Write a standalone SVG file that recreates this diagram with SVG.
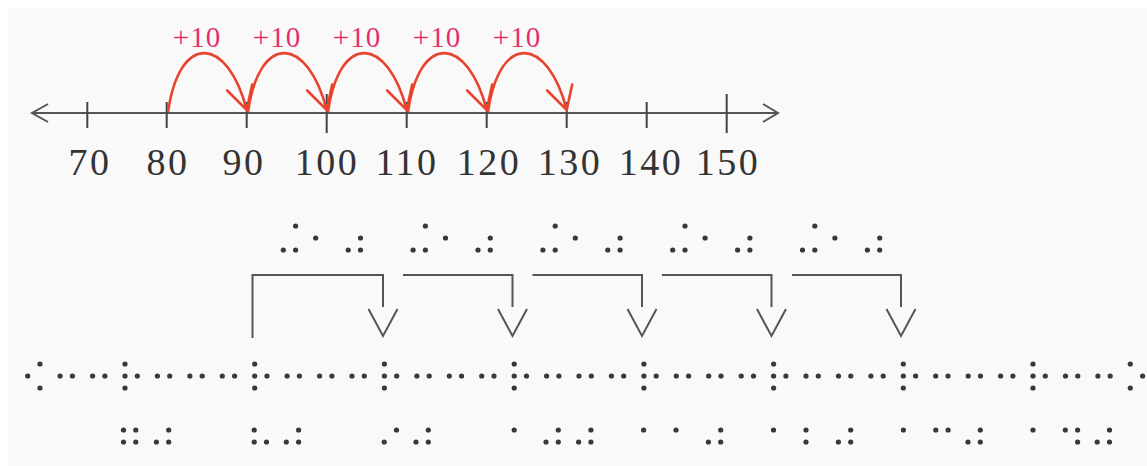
<svg xmlns="http://www.w3.org/2000/svg" xmlns:xlink="http://www.w3.org/1999/xlink" width="1147" height="466" viewBox="0 0 1147 466">
<style>
.axis{stroke:#555;stroke-width:2;fill:none}
.tick{stroke:#444;stroke-width:2}
.num{font-family:"Liberation Serif",serif;font-size:38px;fill:#333;text-anchor:middle;letter-spacing:2.5px}
.plus{font-family:"Liberation Serif",serif;font-size:29px;fill:#e0336e;text-anchor:middle;letter-spacing:1px}
.arc{stroke:#e8432d;stroke-width:2.6;fill:none;stroke-linecap:round}
.br{stroke:#555;stroke-width:2;fill:none}
</style>
<defs>
<circle id="d" r="2.6" fill="#383838"/>
<g id="b2"><use href="#d" x="0" y="12"/></g>
<g id="b25"><use href="#d" x="0" y="12"/><use href="#d" x="12.3" y="12"/></g>
<g id="b246"><use href="#d" x="0" y="12"/><use href="#d" x="12.3" y="0"/><use href="#d" x="12.3" y="24"/></g>
<g id="b1235"><use href="#d" x="0" y="0"/><use href="#d" x="0" y="12"/><use href="#d" x="0" y="24"/><use href="#d" x="12.3" y="12"/></g>
<g id="b135"><use href="#d" x="0" y="0"/><use href="#d" x="0" y="24"/><use href="#d" x="12.3" y="12"/></g>
<g id="b346"><use href="#d" x="0" y="24"/><use href="#d" x="12.3" y="0"/><use href="#d" x="12.3" y="24"/></g>
<g id="b356"><use href="#d" x="0" y="24"/><use href="#d" x="12.3" y="12"/><use href="#d" x="12.3" y="24"/></g>
<g id="b23"><use href="#d" x="0" y="12"/><use href="#d" x="0" y="24"/></g>
<g id="b256"><use href="#d" x="0" y="12"/><use href="#d" x="12.3" y="12"/><use href="#d" x="12.3" y="24"/></g>
<g id="b2356"><use href="#d" x="0" y="12"/><use href="#d" x="0" y="24"/><use href="#d" x="12.3" y="12"/><use href="#d" x="12.3" y="24"/></g>
<g id="b236"><use href="#d" x="0" y="12"/><use href="#d" x="0" y="24"/><use href="#d" x="12.3" y="24"/></g>
<g id="b35"><use href="#d" x="0" y="24"/><use href="#d" x="12.3" y="12"/></g>
</defs>
<rect x="0" y="0" width="1147" height="466" fill="#ffffff"/>
<rect x="8" y="8" width="1139" height="458" fill="#f9f9f9"/>

<g id="number-line">
<path class="axis" d="M33,113 H777"/>
<path class="axis" d="M48,104 L32,113 L48,122"/>
<path class="axis" d="M763,104 L778,113 L763,122"/>
<path class="tick" d="M87.3,102 V128 M166.7,102 V128 M246.7,102 V128 M326.7,94 V133 M406.7,102 V128 M486.7,102 V128 M566.7,102 V128 M646.7,102 V128 M726.7,94 V133"/>
</g>
<g id="labels">
<text class="num" x="90" y="175">70</text>
<text class="num" x="168" y="175">80</text>
<text class="num" x="244" y="175">90</text>
<text class="num" x="327" y="175">100</text>
<text class="num" x="407" y="175">110</text>
<text class="num" x="489" y="175">120</text>
<text class="num" x="570" y="175">130</text>
<text class="num" x="651" y="175">140</text>
<text class="num" x="728" y="175">150</text>
</g>
<g id="jumps">
<g id="jump1"><path class="arc" d="M168.2,111 C179.7,32 227.7,36 246.7,110 M227.2,90.5 L246.7,110 L252.2,84.5"/><text class="plus" x="197" y="46.7">+10</text></g>
<g id="jump2"><path class="arc" d="M248.2,111 C259.7,32 307.7,36 326.7,110 M307.2,90.5 L326.7,110 L332.2,84.5"/><text class="plus" x="277" y="46.7">+10</text></g>
<g id="jump3"><path class="arc" d="M328.2,111 C339.7,32 387.7,36 406.7,110 M387.2,90.5 L406.7,110 L412.2,84.5"/><text class="plus" x="357" y="46.7">+10</text></g>
<g id="jump4"><path class="arc" d="M408.2,111 C419.7,32 467.7,36 486.7,110 M467.2,90.5 L486.7,110 L492.2,84.5"/><text class="plus" x="437" y="46.7">+10</text></g>
<g id="jump5"><path class="arc" d="M488.2,111 C499.7,32 547.7,36 566.7,110 M547.2,90.5 L566.7,110 L572.2,84.5"/><text class="plus" x="517" y="46.7">+10</text></g>
</g>

<g id="braille-plus">
<g id="bp1"><use href="#b346" x="283.3" y="226"/><use href="#b2" x="315.7" y="226"/><use href="#b356" x="348.2" y="226"/></g>
<g id="bp2"><use href="#b346" x="413.1" y="226"/><use href="#b2" x="445.5" y="226"/><use href="#b356" x="478.0" y="226"/></g>
<g id="bp3"><use href="#b346" x="542.9" y="226"/><use href="#b2" x="575.3" y="226"/><use href="#b356" x="607.8" y="226"/></g>
<g id="bp4"><use href="#b346" x="672.7" y="226"/><use href="#b2" x="705.1" y="226"/><use href="#b356" x="737.6" y="226"/></g>
<g id="bp5"><use href="#b346" x="802.5" y="226"/><use href="#b2" x="834.9" y="226"/><use href="#b356" x="867.4" y="226"/></g>
</g>

<g id="connectors">
<path class="br" d="M252.5,338 V275 H383 V307 M368.5,309 L383,336 L397.5,309"/>
<path class="br" d="M403,275 H512.5 V307 M498,309 L512.5,336 L527,309"/>
<path class="br" d="M532.5,275 H642 V307 M627.5,309 L642,336 L656.5,309"/>
<path class="br" d="M662,275 H771.5 V307 M757,309 L771.5,336 L786,309"/>
<path class="br" d="M792,275 H901 V307 M886.5,309 L901,336 L915.5,309"/>
</g>

<g id="braille-line">
<use href="#b246" x="27.7" y="364"/>
<use href="#b25" x="60.1" y="364"/>
<use href="#b25" x="92.6" y="364"/>
<use href="#b1235" x="125.0" y="364"/>
<use href="#b25" x="157.4" y="364"/>
<use href="#b25" x="189.9" y="364"/>
<use href="#b25" x="222.3" y="364"/>
<use href="#b1235" x="254.7" y="364"/>
<use href="#b25" x="287.1" y="364"/>
<use href="#b25" x="319.6" y="364"/>
<use href="#b25" x="352.0" y="364"/>
<use href="#b1235" x="384.4" y="364"/>
<use href="#b25" x="416.9" y="364"/>
<use href="#b25" x="449.3" y="364"/>
<use href="#b25" x="481.7" y="364"/>
<use href="#b1235" x="514.2" y="364"/>
<use href="#b25" x="546.6" y="364"/>
<use href="#b25" x="579.0" y="364"/>
<use href="#b25" x="611.4" y="364"/>
<use href="#b1235" x="643.9" y="364"/>
<use href="#b25" x="676.3" y="364"/>
<use href="#b25" x="708.7" y="364"/>
<use href="#b25" x="741.2" y="364"/>
<use href="#b1235" x="773.6" y="364"/>
<use href="#b25" x="806.0" y="364"/>
<use href="#b25" x="838.5" y="364"/>
<use href="#b25" x="870.9" y="364"/>
<use href="#b1235" x="903.3" y="364"/>
<use href="#b25" x="935.7" y="364"/>
<use href="#b25" x="968.2" y="364"/>
<use href="#b25" x="1000.6" y="364"/>
<use href="#b1235" x="1033.0" y="364"/>
<use href="#b25" x="1065.5" y="364"/>
<use href="#b25" x="1097.9" y="364"/>
<use href="#b135" x="1130.3" y="364"/>
</g>

<g id="braille-numbers">
<g id="bn70"><use href="#b2356" x="123.5" y="418"/><use href="#b356" x="156.4" y="418"/></g>
<g id="bn80"><use href="#b236" x="254.2" y="418"/><use href="#b356" x="286.3" y="418"/></g>
<g id="bn90"><use href="#b35" x="384.2" y="418"/><use href="#b356" x="416.0" y="418"/></g>
<g id="bn100"><use href="#b2" x="514.2" y="418"/><use href="#b356" x="546.0" y="418"/><use href="#b356" x="578.6" y="418"/></g>
<g id="bn110"><use href="#b2" x="643.6" y="418"/><use href="#b2" x="676.0" y="418"/><use href="#b356" x="708.4" y="418"/></g>
<g id="bn120"><use href="#b2" x="773.5" y="418"/><use href="#b23" x="806.0" y="418"/><use href="#b356" x="838.4" y="418"/></g>
<g id="bn130"><use href="#b2" x="903.4" y="418"/><use href="#b25" x="935.8" y="418"/><use href="#b356" x="968.0" y="418"/></g>
<g id="bn140"><use href="#b2" x="1033.0" y="418"/><use href="#b256" x="1065.3" y="418"/><use href="#b356" x="1097.2" y="418"/></g>
</g>
</svg>
